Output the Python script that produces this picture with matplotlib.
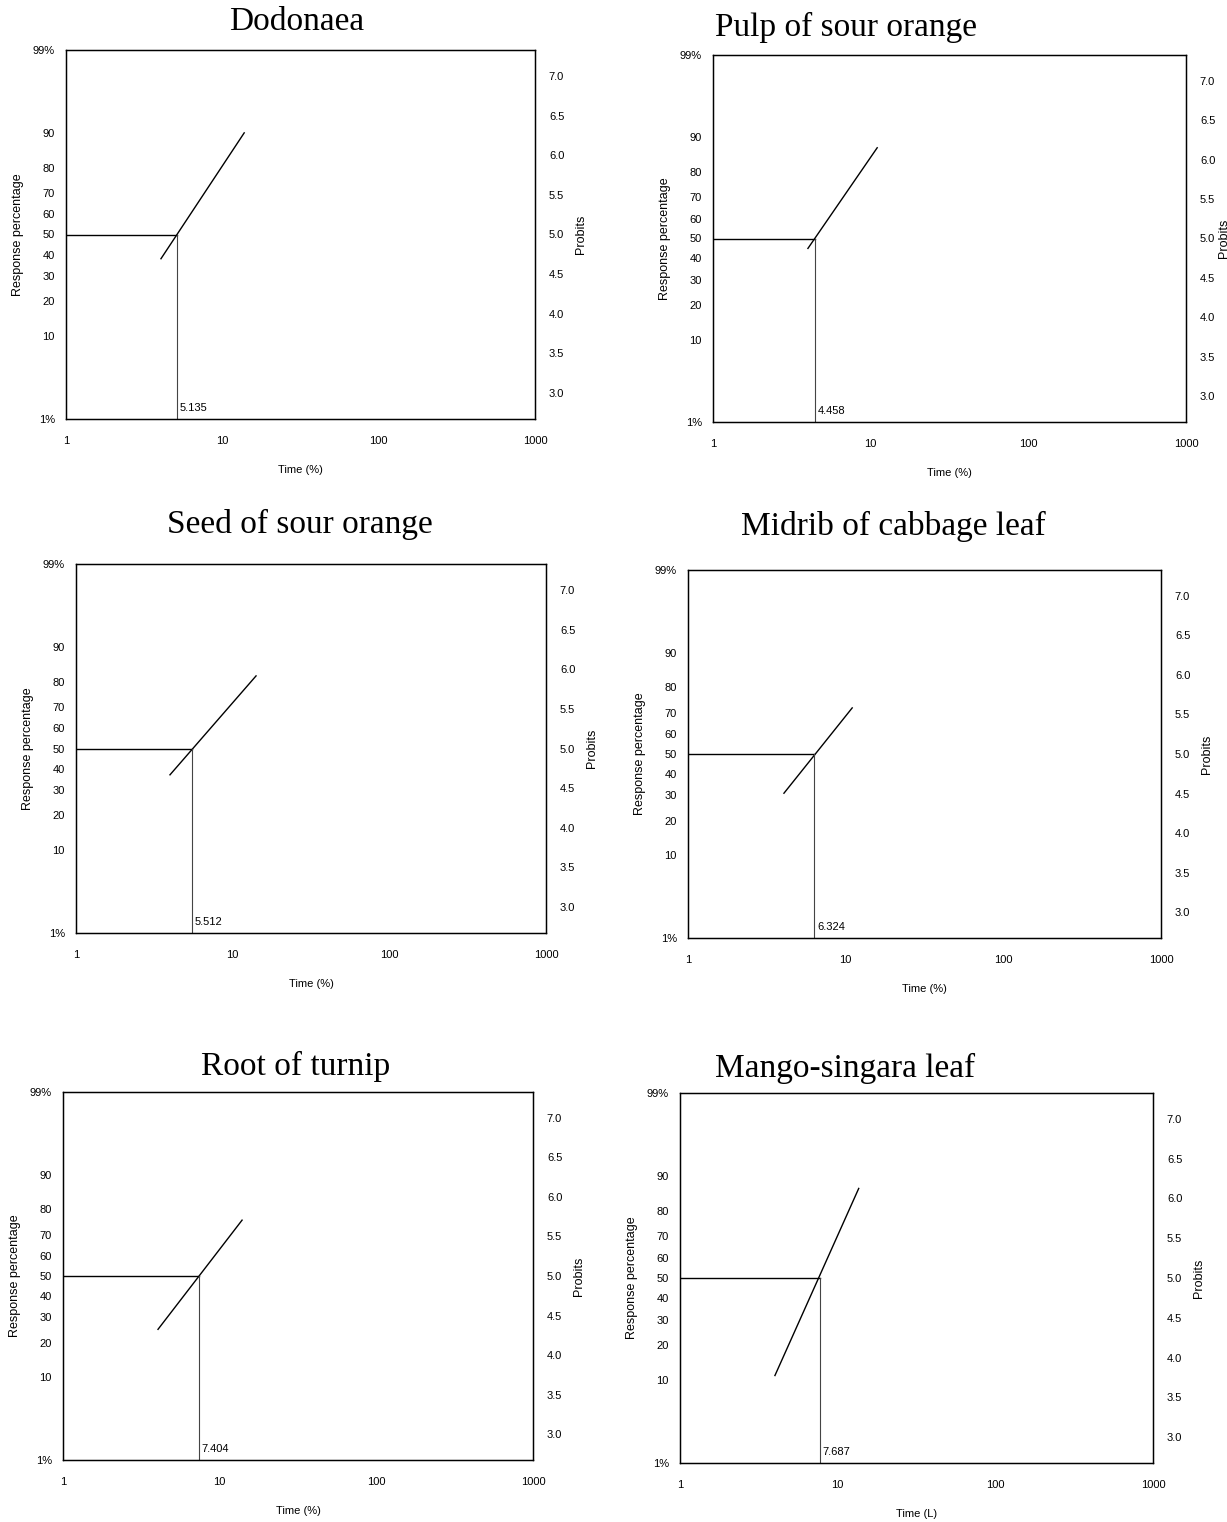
import matplotlib
matplotlib.use("Agg")
import matplotlib.pyplot as plt
import numpy as np
from statistics import NormalDist

titles = ["Dodonaea", "Pulp of sour orange", "Seed of sour orange",
          "Midrib of cabbage leaf", "Root of turnip", "Mango-singara leaf"]
lt50 = [5.135, 4.458, 5.512, 6.324, 7.404, 7.687]
lt50_text = ["5.135", "4.458", "5.512", "6.324", "7.404", "7.687"]
# regression line ends: time and response %
x_start = [4.05, 4.0, 3.98, 4.06, 4.04, 4.0]
pct_start = [38, 45, 37, 31, 25, 11]
x_end = [13.8, 11.0, 14.1, 11.0, 13.9, 13.6]
pct_end = [90, 87.5, 82, 72, 76, 87]
xlabels = ["Time (%)", "Time (%)", "Time (%)", "Time (%)", "Time (%)", "Time (L)"]

pct_ticks = [1, 10, 20, 30, 40, 50, 60, 70, 80, 90, 99]
pct_ticklabels = ["1%", "10", "20", "30", "40", "50", "60", "70", "80", "90", "99%"]
probit_ticks = [3.0, 3.5, 4.0, 4.5, 5.0, 5.5, 6.0, 6.5, 7.0]

# axes boxes in pixels: left, right, top, bottom
boxes = [(66, 535, 50, 419), (713, 1186, 55, 422),
         (76, 546, 564, 933), (688, 1161, 570, 938),
         (63, 533, 1092, 1460), (680, 1153, 1093, 1463)]
# title centre in pixels
title_pos = [(297, 22), (846, 27), (300, 524), (893, 526), (296, 1066), (845, 1068)]
probit_pad = [8, 2, 8, 8, 8, 8]

W, H = 1227, 1522


def probit(p):
    return NormalDist().inv_cdf(p / 100.0) + 5


plt.rcParams['font.family'] = ['Liberation Sans', 'DejaVu Sans']
fig = plt.figure(figsize=(W / 100, H / 100), dpi=100)

ylo, yhi = probit(1), probit(99)

for i in range(6):
    l, r, t, b = boxes[i]
    ax = fig.add_axes([l / W, 1 - b / H, (r - l) / W, (b - t) / H])
    ax.set_xscale('log')
    ax.set_xlim(1, 1000)
    ax.set_ylim(ylo, yhi)
    ax.set_xticks([1, 10, 100, 1000])
    ax.set_xticklabels(["1", "10", "100", "1000"])
    ax.minorticks_off()
    ax.set_yticks([probit(p) for p in pct_ticks])
    ax.set_yticklabels(pct_ticklabels)
    ax.tick_params(length=0, labelsize=8, pad=12)
    ax.tick_params(axis='y', pad=8)
    for s in ax.spines.values():
        s.set_linewidth(1.0)
    ax.set_ylabel("Response percentage", fontsize=9, labelpad=6)
    ax.set_xlabel(xlabels[i], fontsize=8, labelpad=14)

    ax2 = ax.twinx()
    ax2.set_ylim(ylo, yhi)
    ax2.set_yticks(probit_ticks)
    ax2.set_yticklabels(["%.1f" % v for v in probit_ticks])
    ax2.tick_params(length=0, labelsize=8, pad=10)
    ax2.set_ylabel("Probits", fontsize=9, labelpad=probit_pad[i])

    # probit regression line
    ax.plot([x_start[i], x_end[i]], [probit(pct_start[i]), probit(pct_end[i])],
            color='black', lw=1.0)
    # LT50 guides
    ax.plot([1, lt50[i]], [5, 5], color='black', lw=1.0)
    ax.plot([lt50[i], lt50[i]], [ylo, 5], color='#444444', lw=0.8)
    ax.text(lt50[i] * 1.04, ylo + 0.08, lt50_text[i], fontsize=8, va='bottom', ha='left')

    tx, ty = title_pos[i]
    fig.text(tx / W, 1 - ty / H, titles[i], fontsize=24, family=['Liberation Serif'],
             ha='center', va='center')

fig.savefig("out.png", dpi=100)
